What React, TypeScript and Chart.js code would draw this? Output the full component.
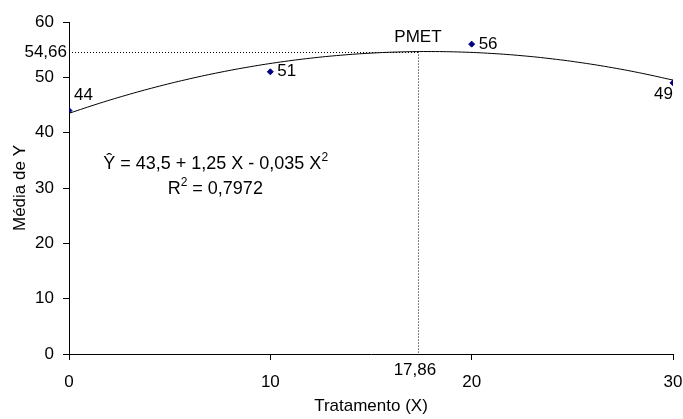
import React, { useEffect, useRef } from 'react';
import { Chart, registerables } from 'chart.js';
Chart.register(...registerables);

// ---- data ----
const xValues = [0, 10, 20, 30];
const yValues = [44, 51, 56, 49];
const pointLabels = ['44', '51', '56', '49'];
const xTickValues = [0, 10, 20, 30];
const yTickValues = [0, 10, 20, 30, 40, 50, 60];
const coefA = 43.5;
const coefB = 1.25;
const coefC = -0.035;
const trendX = [0, 1.5, 3, 4.5, 6, 7.5, 9, 10.5, 12, 13.5, 15, 16.5, 18, 19.5, 21, 22.5, 24, 25.5, 27, 28.5, 30];
const pmetLineX = 17.33; // position of the dotted line as drawn
const pmetY = 54.66;
const pmetXLabel = '17,86';
const pmetYLabel = '54,66';
const pmetText = 'PMET';
const equationText = 'Ŷ = 43,5 + 1,25 X - 0,035 X';
const r2Base = 'R';
const r2Rest = ' = 0,7972';
const xTitle = 'Tratamento (X)';
const yTitle = 'Média de Y';

const FONT = '"Liberation Sans", Arial, sans-serif';
const FS = 17;
const EQ_FS = 18;

export default function App() {
  const ref = useRef<HTMLCanvasElement | null>(null);
  useEffect(() => {
    const canvas = ref.current!;
    const trendData = trendX.map((x) => ({ x, y: coefA + coefB * x + coefC * x * x }));
    const pts = xValues.map((x, i) => ({ x, y: yValues[i] }));

    const overlay = {
      id: 'overlay',
      beforeDatasetsDraw(chart: any) {
        const { ctx, scales } = chart;
        const xs = scales.x, ys = scales.y;
        const px = xs.getPixelForValue(pmetLineX);
        const py = ys.getPixelForValue(pmetY);
        ctx.save();
        ctx.strokeStyle = '#000';
        ctx.lineWidth = 1;
        ctx.setLineDash([1, 2]);
        ctx.beginPath();
        ctx.moveTo(xs.getPixelForValue(0), Math.round(py) + 0.5);
        ctx.lineTo(px, Math.round(py) + 0.5);
        ctx.moveTo(Math.round(px) + 0.5, py);
        ctx.lineTo(Math.round(px) + 0.5, ys.getPixelForValue(0));
        ctx.stroke();
        ctx.restore();
      },
      afterDatasetsDraw(chart: any) {
        const { ctx, scales } = chart;
        const xs = scales.x, ys = scales.y;
        ctx.save();
        ctx.fillStyle = '#000';
        ctx.font = `${FS}px ${FONT}`;
        ctx.textBaseline = 'middle';
        // point labels
        const offs = [
          { dx: 5, dy: -15, align: 'left' },
          { dx: 7, dy: 0, align: 'left' },
          { dx: 7, dy: 0, align: 'left' },
          { dx: 0, dy: 11, align: 'right' },
        ];
        pointLabels.forEach((t, i) => {
          const x = xs.getPixelForValue(xValues[i]);
          const y = ys.getPixelForValue(yValues[i]);
          ctx.textAlign = offs[i].align;
          ctx.fillText(t, x + offs[i].dx, y + offs[i].dy);
        });
        const px = xs.getPixelForValue(pmetLineX);
        const py = ys.getPixelForValue(pmetY);
        ctx.textAlign = 'center';
        ctx.fillText(pmetText, px, py - 14);
        ctx.fillText(pmetXLabel, px - 3, ys.getPixelForValue(0) + 16);
        ctx.textAlign = 'right';
        ctx.fillText(pmetYLabel, xs.getPixelForValue(0) - 2, py + 0.5);
        // equation
        ctx.font = `${EQ_FS}px ${FONT}`;
        const eqX = xs.getPixelForValue(1.7);
        const eqY = ys.getPixelForValue(34.4);
        ctx.textAlign = 'left';
        ctx.fillText(equationText, eqX, eqY);
        const w = ctx.measureText(equationText).width;
        ctx.font = `12px ${FONT}`;
        ctx.fillText('2', eqX + w, eqY - 6);
        // R2
        ctx.font = `${EQ_FS}px ${FONT}`;
        const rX = xs.getPixelForValue(4.9);
        const rY = ys.getPixelForValue(29.9);
        ctx.fillText(r2Base, rX, rY);
        const wr = ctx.measureText(r2Base).width;
        ctx.font = `12px ${FONT}`;
        ctx.fillText('2', rX + wr, rY - 6);
        const w2 = ctx.measureText('2').width;
        ctx.font = `${EQ_FS}px ${FONT}`;
        ctx.fillText(r2Rest, rX + wr + w2, rY);
        ctx.restore();
      },
    };

    const chart = new Chart(canvas, {
      type: 'scatter',
      data: {
        datasets: [
          {
            type: 'line',
            data: trendData,
            borderColor: '#000',
            borderWidth: 1,
            pointRadius: 0,
            tension: 0.4,
            fill: false,
          } as any,
          {
            data: pts,
            backgroundColor: '#000080',
            borderColor: '#000080',
            pointStyle: 'rectRot',
            pointRadius: 3,
          },
        ],
      },
      options: {
        animation: false,
        responsive: false,
        layout: { padding: { top: 22, right: 0, left: 0, bottom: 0 } },
        plugins: { legend: { display: false }, tooltip: { enabled: false } },
        scales: {
          x: {
            type: 'linear',
            min: 0,
            max: 30,
            afterBuildTicks: (s: any) => { s.ticks = xTickValues.map((v) => ({ value: v })); },
            afterFit: (s: any) => { s.height = 65; s.paddingRight = 10; s.paddingLeft = 0; },
            ticks: { color: '#000', font: { family: FONT, size: FS }, padding: 12 },
            grid: { drawOnChartArea: false, color: '#000', tickLength: 6 },
            border: { color: '#000', width: 1 },
            title: { display: true, text: xTitle, color: '#000', font: { family: FONT, size: FS }, padding: { top: 0, bottom: 2 } },
          },
          y: {
            type: 'linear',
            min: 0,
            max: 60,
            afterBuildTicks: (s: any) => { s.ticks = yTickValues.map((v) => ({ value: v })); },
            afterFit: (s: any) => { s.width = 69; },
            ticks: { color: '#000', font: { family: FONT, size: FS }, padding: 9 },
            grid: { drawOnChartArea: false, color: '#000', tickLength: 6 },
            border: { color: '#000', width: 1 },
            title: { display: true, text: yTitle, color: '#000', font: { family: FONT, size: FS }, padding: { top: 10, bottom: 0 } },
          },
        },
      },
      plugins: [overlay],
    });
    return () => chart.destroy();
  }, []);
  return (
    <div style={{ position: 'fixed', left: 0, top: 0, width: 683, height: 419, background: '#fff' }}>
      <canvas ref={ref} width={683} height={419} style={{ width: 683, height: 419, display: 'block' }} />
    </div>
  );
}
